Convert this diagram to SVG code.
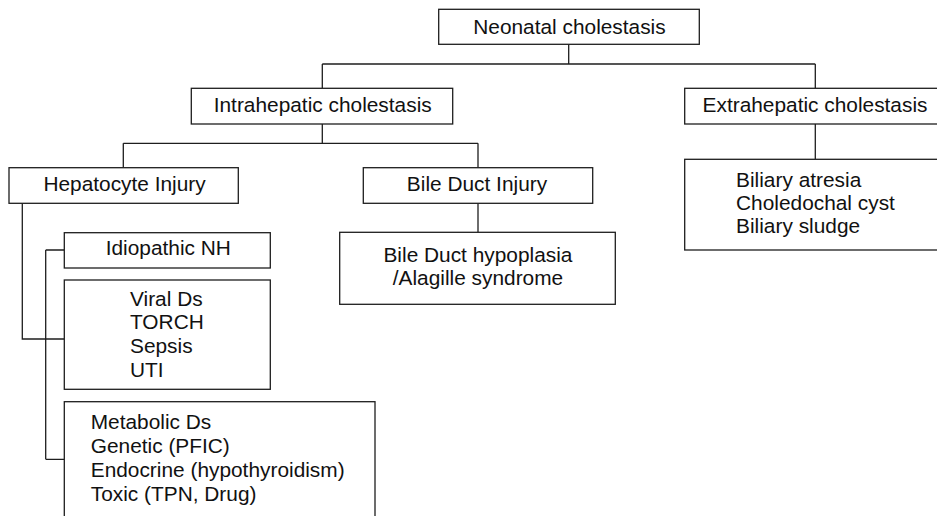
<svg xmlns="http://www.w3.org/2000/svg" width="937" height="516" viewBox="0 0 937 516">
<style>
rect{fill:#fff;stroke:#1e1e1e;stroke-width:1.3}
.c{fill:none;stroke:#1e1e1e;stroke-width:1.3}
text{font-family:"Liberation Sans",Arial,sans-serif;font-size:19.5px;fill:#111}
.m{text-anchor:middle}
</style>
<rect x="0" y="0" width="937" height="516" style="stroke:none"/>
<g id="connectors">
<path class="c" d="M568.7 44.3V64M322.3 64H815.3M322.3 64V88.3M815.3 64V88.3"/>
<path class="c" d="M322.3 124V143.3M123.3 143.3H478M123.3 143.3V167.7M478 143.3V167.7"/>
<path class="c" d="M478 203.3V232.3"/>
<path class="c" d="M815.3 124V159.3"/>
<path class="c" d="M22.3 203.3V339H64.3M45.7 250V459.3M45.7 250H64.3M45.7 459.3H64.3"/>
</g>
<g id="n-neonatal"><rect x="438.7" y="9.3" width="260.6" height="35"/></g>
<g id="n-intra"><rect x="191.3" y="88.3" width="261.4" height="35.7"/></g>
<g id="n-extra"><rect x="684.7" y="88.3" width="270" height="35.7"/></g>
<g id="n-hepatocyte"><rect x="9" y="167.7" width="229.3" height="35.6"/></g>
<g id="n-bileduct"><rect x="363.3" y="167.7" width="229.4" height="35.6"/></g>
<g id="n-hypoplasia"><rect x="339.7" y="232.3" width="275.6" height="72"/></g>
<g id="n-biliary"><rect x="684.7" y="159.3" width="270" height="90.7"/></g>
<g id="n-idiopathic"><rect x="64.3" y="232.7" width="206" height="35.3"/></g>
<g id="n-viral"><rect x="64.3" y="280" width="206" height="109.3"/></g>
<g id="n-metabolic"><rect x="64.3" y="401.7" width="310.7" height="130"/></g>
<g id="labels" transform="scale(1.07 1)">
<text class="m" x="532.2" y="34.3">Neonatal cholestasis</text>
<text class="m" x="301.6" y="111.7">Intrahepatic cholestasis</text>
<text class="m" x="761.7" y="111.7">Extrahepatic cholestasis</text>
<text class="m" x="116.4" y="191">Hepatocyte Injury</text>
<text class="m" x="445.8" y="191">Bile Duct Injury</text>
<text class="m" x="446.7" y="261.7">Bile Duct hypoplasia</text>
<text class="m" x="446.7" y="285">/Alagille syndrome</text>
<text x="687.9" y="186.7">Biliary atresia</text>
<text x="687.9" y="210">Choledochal cyst</text>
<text x="687.9" y="233.3">Biliary sludge</text>
<text class="m" x="157.3" y="255.3">Idiopathic NH</text>
<text x="121.5" y="306">Viral Ds</text>
<text x="121.5" y="329.3">TORCH</text>
<text x="121.5" y="353">Sepsis</text>
<text x="121.5" y="376.7">UTI</text>
<text x="84.8" y="429.3">Metabolic Ds</text>
<text x="84.8" y="453.3">Genetic (PFIC)</text>
<text x="84.8" y="477.3">Endocrine (hypothyroidism)</text>
<text x="84.8" y="501">Toxic (TPN, Drug)</text>
</g>
</svg>
